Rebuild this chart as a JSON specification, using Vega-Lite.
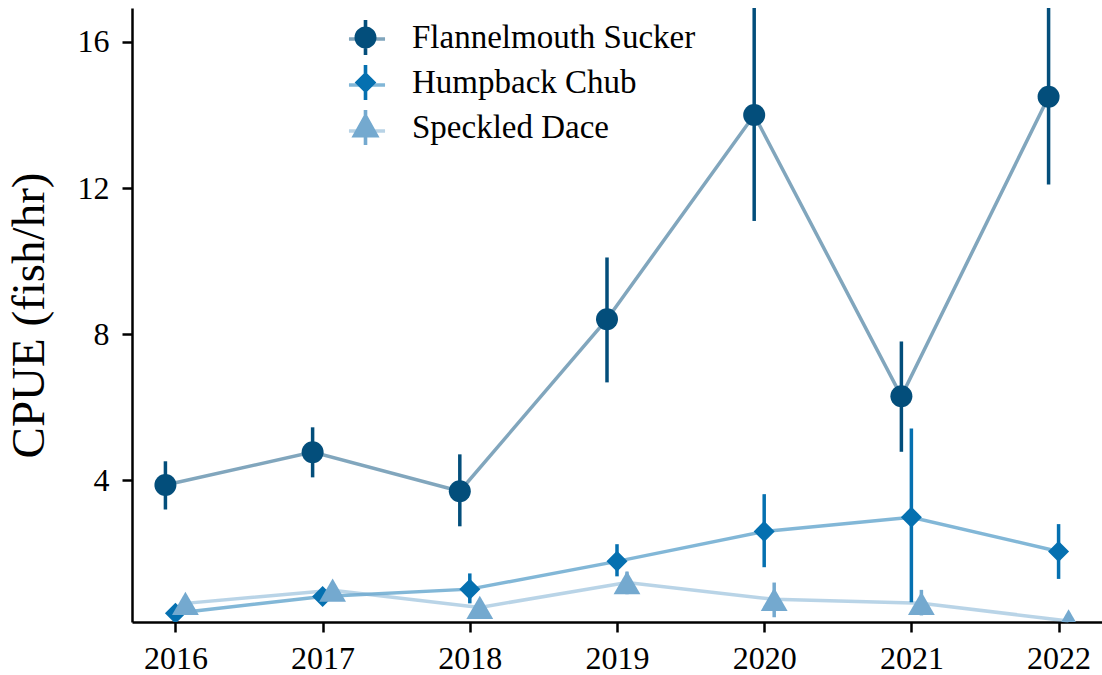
{
  "$schema": "https://vega.github.io/schema/vega-lite/v6.json",
  "width": 970,
  "height": 614,
  "autosize": {"type": "none"},
  "padding": {"left": 132, "top": 8, "right": 0, "bottom": 53},
  "background": "white",
  "config": {
    "view": {"stroke": null},
    "font": "Liberation Serif",
    "axis": {
      "grid": false,
      "domainColor": "black",
      "domainWidth": 2.5,
      "tickColor": "black",
      "tickWidth": 2.5,
      "tickSize": 10,
      "labelFont": "Liberation Serif",
      "labelFontSize": 32,
      "labelColor": "black",
      "titleFont": "Liberation Serif",
      "titleFontWeight": "normal",
      "titleColor": "black"
    },
    "legend": {
      "labelFont": "Liberation Serif",
      "labelFontSize": 33,
      "labelColor": "black",
      "labelLimit": 500
    }
  },
  "data": {
    "values": [
      {"species": "Flannelmouth Sucker", "year": 2016, "cpue": 3.87, "lo": 3.2, "hi": 4.52},
      {"species": "Flannelmouth Sucker", "year": 2017, "cpue": 4.77, "lo": 4.08, "hi": 5.45},
      {"species": "Flannelmouth Sucker", "year": 2018, "cpue": 3.7, "lo": 2.74, "hi": 4.71},
      {"species": "Flannelmouth Sucker", "year": 2019, "cpue": 8.41, "lo": 6.68, "hi": 10.1},
      {"species": "Flannelmouth Sucker", "year": 2020, "cpue": 14.0, "lo": 11.1, "hi": 17.5},
      {"species": "Flannelmouth Sucker", "year": 2021, "cpue": 6.3, "lo": 4.78, "hi": 7.8},
      {"species": "Flannelmouth Sucker", "year": 2022, "cpue": 14.5, "lo": 12.1, "hi": 17.5},
      {"species": "Humpback Chub", "year": 2016, "cpue": 0.36, "lo": 0.25, "hi": 0.47},
      {"species": "Humpback Chub", "year": 2017, "cpue": 0.82, "lo": 0.72, "hi": 0.92},
      {"species": "Humpback Chub", "year": 2018, "cpue": 1.02, "lo": 0.63, "hi": 1.45},
      {"species": "Humpback Chub", "year": 2019, "cpue": 1.78, "lo": 1.37, "hi": 2.25},
      {"species": "Humpback Chub", "year": 2020, "cpue": 2.6, "lo": 1.62, "hi": 3.62},
      {"species": "Humpback Chub", "year": 2021, "cpue": 2.99, "lo": 0.66, "hi": 5.42},
      {"species": "Humpback Chub", "year": 2022, "cpue": 2.05, "lo": 1.3, "hi": 2.8},
      {"species": "Speckled Dace", "year": 2016, "cpue": 0.63, "lo": 0.5, "hi": 0.76},
      {"species": "Speckled Dace", "year": 2017, "cpue": 0.99, "lo": 0.88, "hi": 1.1},
      {"species": "Speckled Dace", "year": 2018, "cpue": 0.52, "lo": 0.42, "hi": 0.62},
      {"species": "Speckled Dace", "year": 2019, "cpue": 1.2, "lo": 0.88, "hi": 1.5},
      {"species": "Speckled Dace", "year": 2020, "cpue": 0.74, "lo": 0.25, "hi": 1.2},
      {"species": "Speckled Dace", "year": 2021, "cpue": 0.63, "lo": 0.3, "hi": 1.0},
      {"species": "Speckled Dace", "year": 2022, "cpue": 0.15, "lo": 0.05, "hi": 0.25}
    ]
  },
  "encoding": {
    "x": {
      "field": "year",
      "type": "ordinal",
      "scale": {"type": "point", "padding": 0.295},
      "axis": {"title": null, "labelPadding": 11, "labelAngle": 0}
    },
    "xOffset": {
      "field": "species",
      "type": "nominal",
      "scale": {"type": "point", "range": [-10, 10], "padding": 0}
    }
  },
  "layer": [
    {
      "mark": {"type": "line", "strokeWidth": 3.5, "opacity": 0.5},
      "encoding": {
        "y": {
          "field": "cpue",
          "type": "quantitative",
          "scale": {"domain": [0.12, 16.93], "nice": false, "zero": false},
          "axis": {"values": [4, 8, 12, 16], "title": "CPUE (fish/hr)", "labelPadding": 13, "titleFontSize": 47, "titleX": -103, "titleY": 307, "titleAngle": 270, "titleBaseline": "middle", "titleAlign": "center"}
        },
        "stroke": {
          "field": "species",
          "type": "nominal",
          "scale": {"range": ["#034e7b", "#0570b0", "#74a9cf"]},
          "legend": {"orient": "top-left", "offset": 11, "title": null, "padding": 0, "symbolOffset": 204, "symbolType": "stroke", "symbolSize": 1300, "symbolStrokeWidth": 3.5, "symbolOpacity": 0.5, "labelExpr": "''", "labelOffset": 28, "rowPadding": 9}
        }
      }
    },
    {
      "mark": {"type": "rule", "strokeWidth": 3.5, "clip": true},
      "encoding": {
        "y": {"field": "lo", "type": "quantitative", "title": "CPUE (fish/hr)"},
        "y2": {"field": "hi"},
        "stroke": {"field": "species", "type": "nominal"}
      }
    },
    {
      "transform": [{"filter": "datum.species === 'Flannelmouth Sucker'"}],
      "mark": {"type": "point", "shape": "circle", "size": 484, "filled": true, "opacity": 1, "clip": true},
      "encoding": {
        "y": {"field": "cpue", "type": "quantitative", "title": "CPUE (fish/hr)"},
        "color": {
          "field": "species",
          "type": "nominal",
          "scale": {"domain": ["Flannelmouth Sucker", "Humpback Chub", "Speckled Dace"], "range": ["#034e7b", "#0570b0", "#74a9cf"]},
          "legend": {"orient": "none", "legendX": 215, "legendY": 11, "title": null, "padding": 0, "symbolSize": 1300, "symbolStrokeWidth": 0, "symbolOpacity": 1, "labelOffset": 28, "rowPadding": 9}
        }
      }
    },
    {
      "transform": [{"filter": "datum.species === 'Humpback Chub'"}],
      "mark": {"type": "point", "shape": "diamond", "size": 441, "filled": true, "opacity": 1, "clip": true},
      "encoding": {
        "y": {"field": "cpue", "type": "quantitative", "title": "CPUE (fish/hr)"},
        "color": {"field": "species", "type": "nominal"}
      }
    },
    {
      "transform": [{"filter": "datum.species === 'Speckled Dace'"}],
      "mark": {"type": "point", "shape": "triangle-up", "size": 720, "filled": true, "opacity": 1, "clip": true},
      "encoding": {
        "y": {"field": "cpue", "type": "quantitative", "title": "CPUE (fish/hr)"},
        "color": {"field": "species", "type": "nominal"}
      }
    },
    {
      "mark": {"type": "point", "filled": true, "opacity": 0},
      "encoding": {
        "y": {"field": "cpue", "type": "quantitative", "title": "CPUE (fish/hr)"},
        "color": {
          "field": "species",
          "type": "nominal",
          "legend": {"orient": "none", "legendX": 215, "legendY": 11, "title": null, "padding": 0, "symbolSize": 1300, "symbolStrokeWidth": 0, "symbolOpacity": 1, "labelOffset": 28, "rowPadding": 9}
        },
        "shape": {
          "field": "species",
          "type": "nominal",
          "scale": {
            "domain": ["Flannelmouth Sucker", "Humpback Chub", "Speckled Dace"],
            "range": [
              "M-0.61,0A0.61,0.61,0,1,1,0.61,0A0.61,0.61,0,1,1,-0.61,0Z M-0.1,-0.97L0.1,-0.97L0.1,0.97L-0.1,0.97Z",
              "M0,-0.6L0.6,0L0,0.6L-0.6,0Z M-0.1,-0.97L0.1,-0.97L0.1,0.97L-0.1,0.97Z",
              "M0,-0.85L0.78,0.55L-0.78,0.55Z M-0.1,-0.97L0.1,-0.97L0.1,0.97L-0.1,0.97Z"
            ]
          },
          "legend": {"orient": "none", "legendX": 215, "legendY": 11, "title": null, "padding": 0, "symbolSize": 1300, "symbolStrokeWidth": 0, "symbolOpacity": 1, "labelOffset": 28, "rowPadding": 9}
        }
      }
    }
  ]
}
